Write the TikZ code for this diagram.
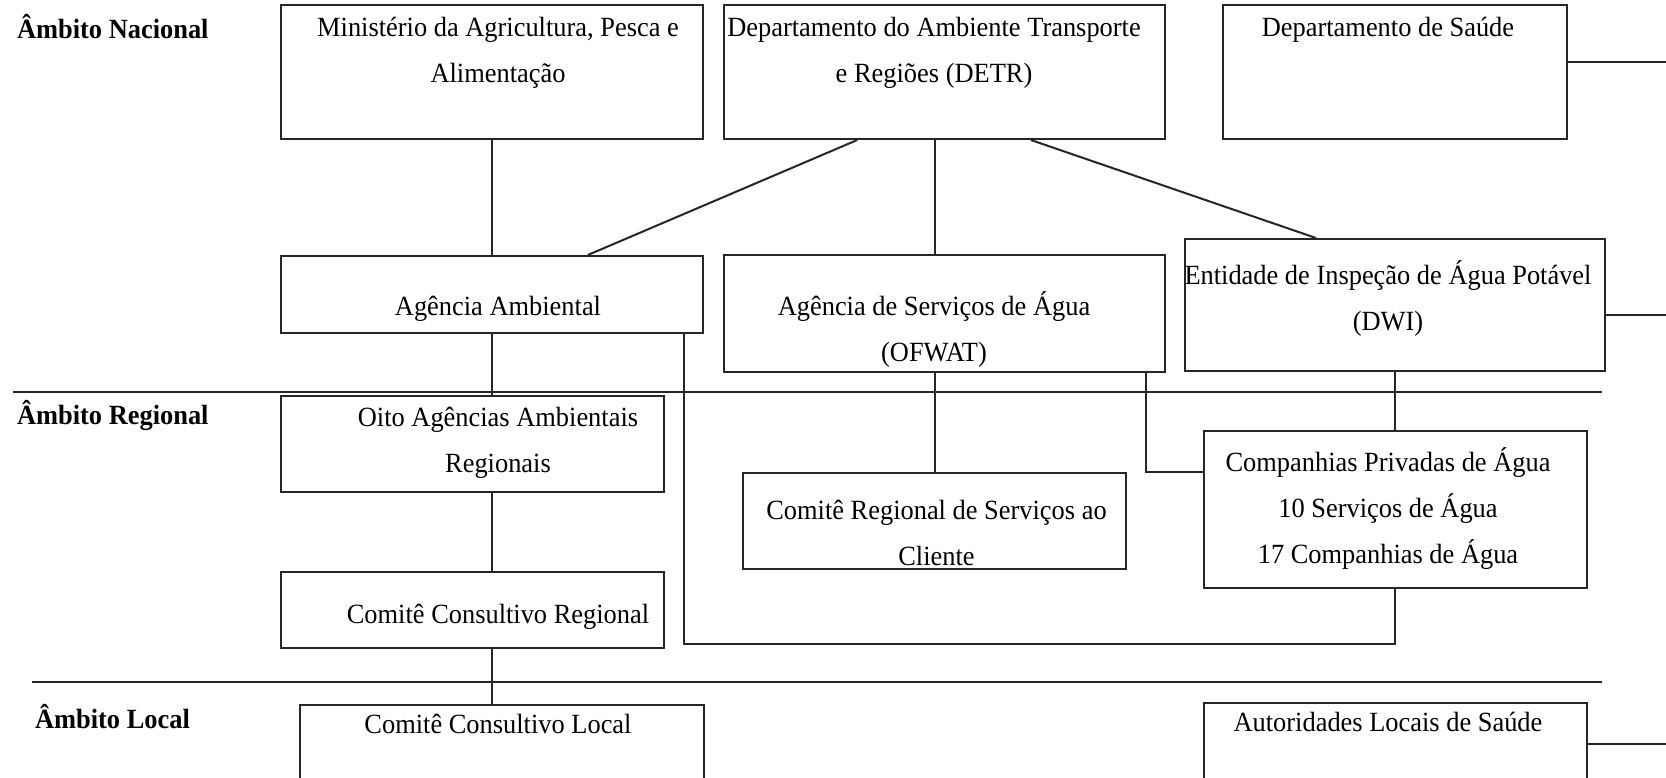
\documentclass[tikz,border=0pt]{standalone}
\usepackage{fontspec}
\setmainfont{Liberation Serif}[FakeStretch=0.95]
\usetikzlibrary{calc,positioning}
\newcommand{\boxfont}{\fontsize{13.9}{23.2}\selectfont}

\begin{document}
\begin{tikzpicture}[x=1pt, y=1pt, node distance=40pt,
		tshift/.style={execute at begin node={\spaceskip=0pt\xspaceskip=0pt\leftskip=#1 plus 1fill\rightskip=-#1 plus 1fill\parfillskip=0pt}}]
				\tikzstyle{box} = [rectangle, draw=black!85, line width=1pt, inner sep=0pt, align=center, font=\boxfont]
				\tikzstyle{level} = [anchor=base west, inner sep=0pt, font=\boxfont\bfseries]
				\tikzstyle{link} = [draw=black!85, line width=1pt]
				
				\useasboundingbox (0,0) rectangle (833,-388.5);
				
				\node (min) [box, text width=211pt, text height=15.7pt, text depth=51.3pt, tshift=3pt] at (246,-36) {Ministério da Agricultura, Pesca e\\Alimentação};
				\node (detr) [box, text width=220.5pt, text height=15.7pt, text depth=51.3pt, tshift=-5.25pt, right=9.5pt of min] {Departamento do Ambiente Transporte\\e Regiões (DETR)};
				\node (saude) [box, text width=172pt, text height=15.5pt, text depth=51.5pt, tshift=-3.5pt, right=28pt of detr] {Departamento de Saúde};
				\node (agamb) [box, text width=211pt, text height=29.5pt, text depth=9pt, tshift=3pt, below=57.5pt of min] {Agência Ambiental};
				\node (ofwat) [box, text width=220.5pt, text height=30pt, text depth=28.5pt, tshift=-5.25pt, below=57pt of detr] {Agência de Serviços de Água\\(OFWAT)};
				\node (dwi) [box, text width=210.25pt, text height=22.5pt, text depth=43.5pt, tshift=-3.5pt, below=49pt of saude] {Entidade de Inspeção de Água Potável\\(DWI)};
				\node (oito) [box, text width=191.5pt, text height=15pt, text depth=33pt, tshift=12.75pt, below=30.5pt of agamb, xshift=-9.75pt] {Oito Agências Ambientais\\Regionais};
				\node (ccreg) [box, text width=191.5pt, text height=25.5pt, text depth=12.5pt, tshift=12.75pt, below=39pt of oito] {Comitê Consultivo Regional};
				\node (crsc) [box, text width=191.5pt, text height=23.2pt, text depth=24.8pt, tshift=1pt, below=49.5pt of ofwat, xshift=-5pt] {Comitê Regional de Serviços ao\\Cliente};
				\node (comp) [box, text width=191.5pt, text height=20pt, text depth=58.5pt, tshift=-3.5pt, below=29pt of dwi] {Companhias Privadas de Água\\10 Serviços de Água\\17 Companhias de Água};
				\node (cclocal) [box, text width=202pt, text height=14pt, text depth=25pt, tshift=-2pt, below=27.5pt of ccreg, xshift=14.75pt] {Comitê Consultivo Local};
				\node (autor) [box, text width=191.5pt, text height=14pt, text depth=25pt, tshift=-3.5pt, below=56.5pt of comp] {Autoridades Locais de Saúde};
				
				\node (nac) [level] at (8.35,-19.2) {Âmbito Nacional};
				\node (reg) [level] at (8.35,-212.2) {Âmbito Regional};
				\node (loc) [level] at (17.35,-364) {Âmbito Local};
				\draw [link] (6.65,-195.85) -- (800.75,-195.85);
				\draw [link] (15.8,-341.15) -- (800.85,-341.15);
				
				\draw [link] (min.south) -- (agamb.north);
				\draw [link] ($(detr.south west)!0.303!(detr.south east)$) -- ($(agamb.north west)!0.726!(agamb.north east)$);
				\draw [link] (crsc.north |- detr.south) -- (crsc.north |- ofwat.north);
				\draw [link] ($(detr.south west)!0.695!(detr.south east)$) -- ($(dwi.north west)!0.313!(dwi.north east)$);
				\draw [link] ([yshift=5pt]saude.east) -- ++(51.5,0);
				\draw [link] ([yshift=-5pt]dwi.east) -- ++(32.5,0);
				\draw [link] (agamb.south) -- (agamb.south |- oito.north);
				\draw [link] (agamb.south |- oito.south) -- (agamb.south |- ccreg.north);
				\draw [link] (agamb.south |- ccreg.south) -- (agamb.south |- cclocal.north);
				\draw [link] ($(agamb.south west)!0.953!(agamb.south east)$) -- ++(0,-155) -| (comp.south);
				\draw [link] ($(ofwat.south west)!0.955!(ofwat.south east)$) |- ([yshift=18.6pt]comp.west);
				\draw [link] (crsc.north |- ofwat.south) -- (crsc.north);
				\draw [link] (comp.north |- dwi.south) -- (comp.north);
				\draw [link] ([yshift=-1pt]autor.east) -- ++(41.5,0);
			\end{tikzpicture}
\end{document}
